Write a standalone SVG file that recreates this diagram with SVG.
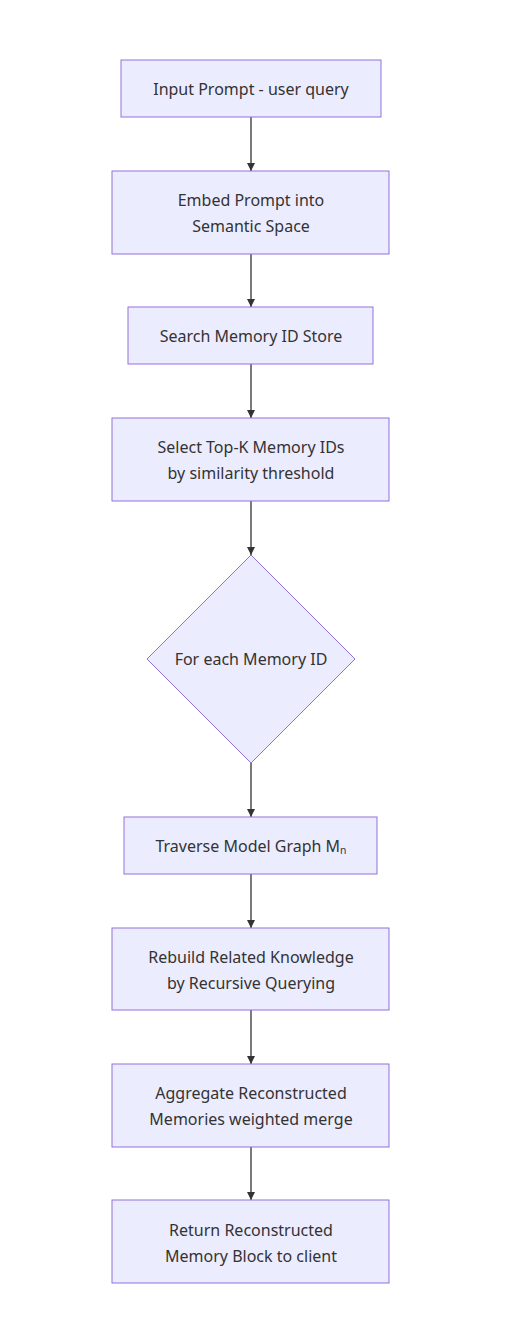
<svg xmlns="http://www.w3.org/2000/svg" width="512" height="1332" viewBox="0 0 512 1332">
<style>
.n{fill:#ECECFF;stroke:#9370DB;stroke-width:1}
.t{font-family:"Noto Sans","DejaVu Sans",sans-serif;font-size:16px;fill:#333;text-anchor:middle;dominant-baseline:central}
.e{stroke:#333;stroke-width:1.3;fill:none}
</style>
<defs>
<marker id="ah" viewBox="0 0 10 10" refX="10" refY="5" markerWidth="8" markerHeight="8" markerUnits="userSpaceOnUse" orient="auto">
<path d="M0,0 L10,5 L0,10 z" fill="#333"/>
</marker>
</defs>
<rect width="512" height="1332" fill="#fff"/>
<g id="edges">
<line class="e" x1="251" y1="117" x2="251" y2="171" marker-end="url(#ah)"/>
<line class="e" x1="251" y1="254" x2="251" y2="307" marker-end="url(#ah)"/>
<line class="e" x1="251" y1="364" x2="251" y2="418" marker-end="url(#ah)"/>
<line class="e" x1="251" y1="501" x2="251" y2="555" marker-end="url(#ah)"/>
<line class="e" x1="251" y1="763" x2="251" y2="817" marker-end="url(#ah)"/>
<line class="e" x1="251" y1="874" x2="251" y2="928" marker-end="url(#ah)"/>
<line class="e" x1="251" y1="1010" x2="251" y2="1064" marker-end="url(#ah)"/>
<line class="e" x1="251" y1="1147" x2="251" y2="1200" marker-end="url(#ah)"/>
</g>
<g id="n1"><rect class="n" x="121" y="60" width="260" height="57"/><text class="t" x="251" y="89">Input Prompt - user query</text></g>
<g id="n2"><rect class="n" x="112" y="171" width="277" height="83"/><text class="t" x="251" y="200">Embed Prompt into</text><text class="t" x="251" y="226">Semantic Space</text></g>
<g id="n3"><rect class="n" x="128" y="307" width="245" height="57"/><text class="t" x="251" y="336">Search Memory ID Store</text></g>
<g id="n4"><rect class="n" x="112" y="418" width="277" height="83"/><text class="t" x="251" y="447">Select Top-K Memory IDs</text><text class="t" x="251" y="473">by similarity threshold</text></g>
<g id="n5"><polygon class="n" points="251,555 355,659 251,763 147,659"/><text class="t" x="251" y="659">For each Memory ID</text></g>
<g id="n6"><rect class="n" x="124" y="817" width="253" height="57"/><text class="t" x="251" y="846">Traverse Model Graph Mₙ</text></g>
<g id="n7"><rect class="n" x="112" y="928" width="277" height="82"/><text class="t" x="251" y="957">Rebuild Related Knowledge</text><text class="t" x="251" y="983">by Recursive Querying</text></g>
<g id="n8"><rect class="n" x="112" y="1064" width="277" height="83"/><text class="t" x="251" y="1093">Aggregate Reconstructed</text><text class="t" x="251" y="1119">Memories weighted merge</text></g>
<g id="n9"><rect class="n" x="112" y="1200" width="277" height="83"/><text class="t" x="251" y="1230">Return Reconstructed</text><text class="t" x="251" y="1256">Memory Block to client</text></g>
</svg>
